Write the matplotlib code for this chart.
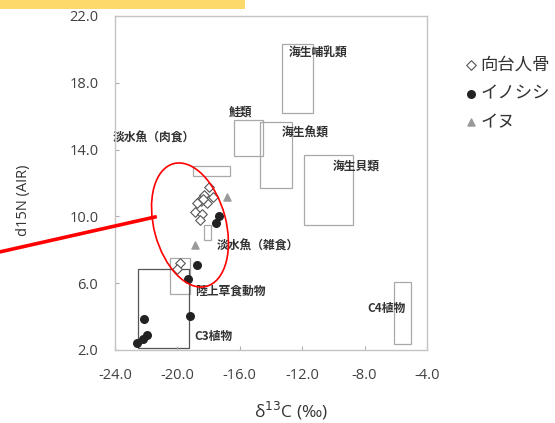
import matplotlib
matplotlib.use("Agg")
import matplotlib.pyplot as plt
from matplotlib.patches import Rectangle, Ellipse
from matplotlib.lines import Line2D

plt.rcParams['font.family'] = ['Noto Sans CJK JP', 'DejaVu Sans']

# 向台人骨 (open diamonds)
human_c = [-17.97, -17.72, -18.29, -18.55, -18.10, -18.49, -18.36, -18.74,
           -18.87, -18.42, -18.55, -19.83, -20.03]
human_n = [11.76, 11.16, 11.28, 10.98, 10.80, 10.92, 11.04, 10.80,
           10.26, 10.14, 9.78, 7.21, 6.85]

# イノシシ (black dots)
boar_c = [-17.33, -17.53, -18.74, -19.32, -19.19, -22.14, -21.95, -22.21, -22.59]
boar_n = [10.02, 9.60, 7.09, 6.25, 4.04, 3.86, 2.90, 2.66, 2.42]

# イヌ (grey triangles)
dog_c = [-16.82, -18.87]
dog_n = [11.16, 8.29]

# reference food ranges: (name, x0, x1, y0, y1)
box_names = ['海生哺乳類', '鮭類', '海生魚類', '海生貝類', '淡水魚（肉食）',
             '淡水魚（雑食）', '陸上草食動物', 'C3植物', 'C4植物']
box_x0 = [-13.3, -16.4, -14.7, -11.9, -19.0, -18.3, -20.5, -22.5, -6.1]
box_x1 = [-11.3, -14.5, -12.65, -8.75, -16.65, -17.85, -19.2, -19.25, -5.0]
box_y0 = [16.2, 13.6, 11.7, 9.5, 12.4, 8.6, 5.35, 2.1, 2.35]
box_y1 = [20.3, 15.8, 15.65, 13.7, 13.0, 9.5, 7.5, 6.85, 6.1]
# label anchor (left, middle)
lab_x = [-12.85, -16.69, -13.3, -10.03, -24.13, -17.46, -18.87, -18.94, -7.85]
lab_y = [19.78, 16.25, 15.0, 13.02, 14.69, 8.23, 5.53, 2.78, 4.46]

x_ticks = [-24.0, -20.0, -16.0, -12.0, -8.0, -4.0]
y_ticks = [2.0, 6.0, 10.0, 14.0, 18.0, 22.0]

fig = plt.figure(figsize=(5.55, 4.23), dpi=100)
ax = fig.add_axes([0.2072, 0.1726, 0.5622, 0.7896])

for name, x0, x1, y0, y1 in zip(box_names, box_x0, box_x1, box_y0, box_y1):
    ec = '#555555' if name == 'C3植物' else '#a8a8a8'
    ax.add_patch(Rectangle((x0, y0), x1 - x0, y1 - y0, fill=False, ec=ec, lw=0.9, zorder=1))
for name, lx, ly in zip(box_names, lab_x, lab_y):
    ax.text(lx, ly, name, ha='left', va='center', fontsize=8.5, fontweight='bold',
            color='#333333', clip_on=False, zorder=2)

h1 = ax.scatter(human_c, human_n, marker='D', s=24, facecolor='white', edgecolor='#555555',
                lw=0.8, zorder=4, label='向台人骨')
h2 = ax.scatter(boar_c, boar_n, marker='o', s=30, color='#222222', zorder=3, label='イノシシ')
h3 = ax.scatter(dog_c, dog_n, marker='^', s=26, color='#9a9a9a', zorder=3, label='イヌ')

ax.set_xlim(-24, -4)
ax.set_ylim(2, 22)
ax.set_xticks(x_ticks)
ax.set_yticks(y_ticks)
ax.set_xticklabels([f'{v:.1f}' for v in x_ticks])
ax.set_yticklabels([f'{v:.1f}' for v in y_ticks])
ax.tick_params(direction='in', length=3, width=0.8, color='#b0b0b0', labelsize=10.5,
               labelcolor='#404040')
ax.tick_params(axis='x', pad=13)
ax.tick_params(axis='y', pad=12)
for lab in ax.get_xticklabels() + ax.get_yticklabels():
    lab.set_family(['Open Sans', 'DejaVu Sans'])
for sp in ax.spines.values():
    sp.set_color('#c4c4c4')
    sp.set_linewidth(1.0)

ax.text(0.564, -0.183, 'δ$^{13}$C (‰)', transform=ax.transAxes, ha='center', va='center',
        fontsize=12.5, color='#333333', family=['Open Sans', 'DejaVu Sans'])
ax.text(-0.292, 0.449, 'd15N (AIR)', transform=ax.transAxes, ha='center', va='center',
        rotation=90, fontsize=10.5, color='#333333', family=['Open Sans', 'DejaVu Sans'])

leg = fig.legend(handles=[h1, h2, h3], loc='upper left', bbox_to_anchor=(462 / 555, 1 - 56 / 423),
                 frameon=False, fontsize=12.5, handletextpad=0.05, labelspacing=0.6,
                 handlelength=1.0, borderaxespad=0, borderpad=0)
for t in leg.get_texts():
    t.set_color('#333333')

# overlay in pixel coords for the highlight annotation
ov = fig.add_axes([0, 0, 1, 1], zorder=10)
ov.set_xlim(0, 555)
ov.set_ylim(423, 0)
ov.set_axis_off()
ov.patch.set_alpha(0)
ov.add_patch(Rectangle((0, 0), 245, 9, color='#fdd86b', lw=0))
ov.add_patch(Ellipse((190, 225), 72, 127, angle=-15, fill=False, ec='red', lw=1.2))
ov.add_line(Line2D([-5, 155], [253, 217], color='red', lw=2.6))

fig.savefig('out.png', dpi=100)
